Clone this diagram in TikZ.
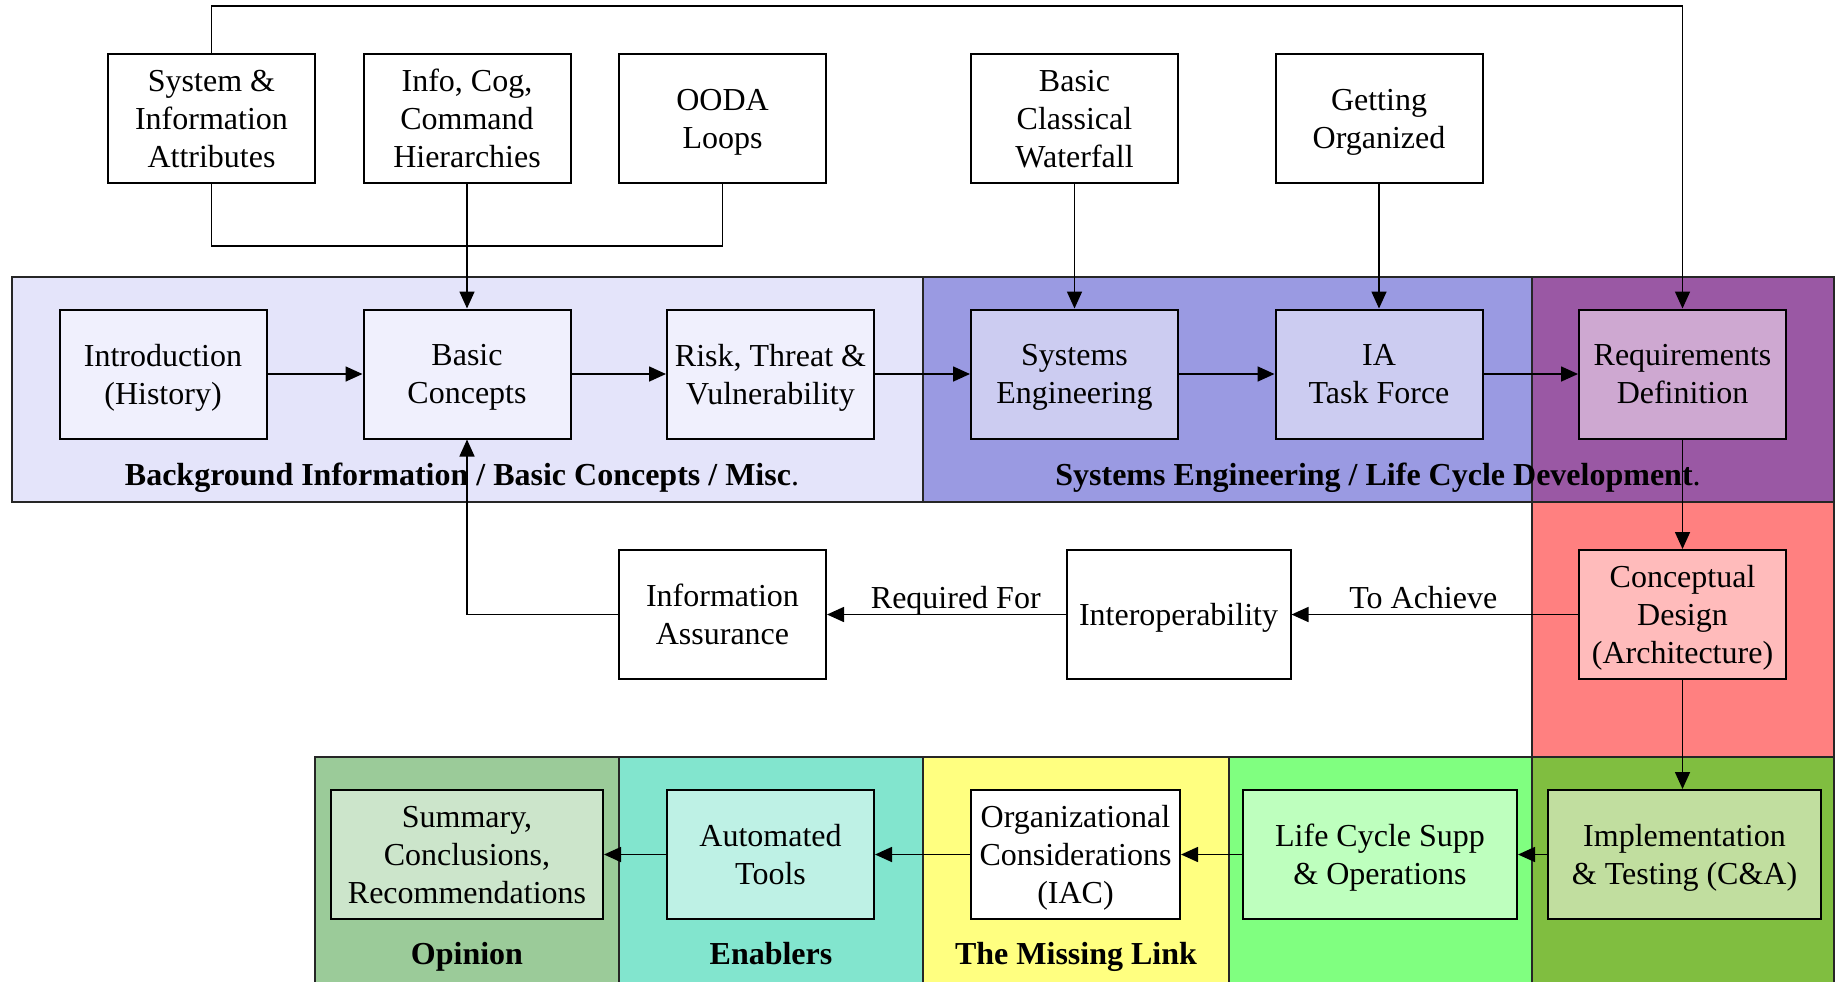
\documentclass[tikz,border=0pt]{standalone}
\usepackage{fontspec}
\setmainfont{Liberation Serif}
\usetikzlibrary{arrows.meta}

% band fills and the lighter fills of the boxes inside them
\definecolor{bgA}{HTML}{E4E4FA}
\definecolor{bxA}{HTML}{F0F0FD}
\definecolor{bgB}{HTML}{9A9AE2}
\definecolor{bxB}{HTML}{CCCCF1}
\definecolor{bgP}{HTML}{9A58A4}
\definecolor{bxP}{HTML}{CEA8D1}
\definecolor{bgR}{HTML}{FF8080}
\definecolor{bxR}{HTML}{FFBBBB}
\definecolor{bgO}{HTML}{9BCB99}
\definecolor{bxO}{HTML}{CCE5CB}
\definecolor{bgE}{HTML}{82E5CE}
\definecolor{bxE}{HTML}{BEF1E5}
\definecolor{bgY}{HTML}{FFFF80}
\definecolor{bgL}{HTML}{80FF80}
\definecolor{bxL}{HTML}{BEFFBE}
\definecolor{bgI}{HTML}{80BE40}
\definecolor{bxI}{HTML}{C1DE9F}

\begin{document}
\begin{tikzpicture}[x=0.5pt,y=-0.5pt,
  txt/.style={font=\fontsize{16}{19}\selectfont},
  % text is centred on its letters, ignoring descenders, and sits a little low
  box/.style={txt, draw, line width=1pt, minimum width=103.5pt,
    minimum height=64.5pt, inner sep=0pt, align=center, text depth=-4.5pt},
  band/.style={draw=black!85, line width=0.8pt},
  lbl/.style={font=\fontsize{16}{19}\selectfont\bfseries, text depth=0pt},
  tag/.style={txt, above, inner sep=2.5pt, text depth=0pt},
  link/.style={line width=0.8pt},
  arr/.style={link, -{Triangle[length=8.5pt,width=7.5pt]}},
]
\useasboundingbox (0,0) rectangle (1835,981);

% ---- coloured bands ----
\draw[band, fill=bgA] (12,277) rectangle (923,502);
\draw[band, fill=bgB] (923,277) rectangle (1532,502);
\draw[band, fill=bgP] (1532,277) rectangle (1834,502);
\draw[band, fill=bgR] (1532,502) rectangle (1834,757);
\draw[band, fill=bgO] (315,757) rectangle (619,985);
\draw[band, fill=bgE] (619,757) rectangle (923,985);
\draw[band, fill=bgY] (923,757) rectangle (1229,985);
\draw[band, fill=bgL] (1229,757) rectangle (1532,985);
\draw[band, fill=bgI] (1532,757) rectangle (1834,985);

% ---- band titles ----
\node[lbl] (tA) at (462,474) {Background Information / Basic Concepts / Misc\textmd{.}};
\node[lbl] (tB) at (1378,474) {Systems Engineering / Life Cycle Development\textmd{.}};
\node[lbl] (tO) at (467,953) {Opinion};
\node[lbl] (tE) at (771,953) {Enablers};
\node[lbl] (tY) at (1076,953) {The Missing Link};

% ---- top row ----
\node[box, fill=white] (sys)  at (211.5,118.5) {System \&\\Information\\Attributes};
\node[box, fill=white] (cog)  at (467,118.5)   {Info, Cog,\\Command\\Hierarchies};
\node[box, fill=white] (ooda) at (722.5,118.5) {OODA\\Loops};
\node[box, fill=white] (wat)  at (1074.5,118.5) {Basic\\Classical\\Waterfall};
\node[box, fill=white] (org)  at (1379,118.5)  {Getting\\Organized};

% ---- first band row ----
\node[box, fill=bxA] (intro)  at (163,374)    {Introduction\\(History)};
\node[box, fill=bxA] (basic)  at (467,374)    {Basic\\Concepts};
\node[box, fill=bxA] (risk)   at (770.5,374)  {Risk, Threat \&\\Vulnerability};
\node[box, fill=bxB] (syseng) at (1074.5,374) {Systems\\Engineering};
\node[box, fill=bxB] (ia)     at (1379,374)   {IA\\Task Force};
\node[box, fill=bxP] (req)    at (1682.5,374) {Requirements\\Definition};

% ---- middle row ----
\node[box, fill=white] (infoas)  at (722.5,614.5)  {Information\\Assurance};
\node[box, fill=white, minimum width=112pt] (interop) at (1178.5,614.5) {Interoperability};
\node[box, fill=bxR] (concept) at (1682.5,614.5) {Conceptual\\Design\\(Architecture)};

% ---- bottom row ----
\node[box, fill=bxO, minimum width=136pt] (summary) at (467,854.5) {Summary,\\Conclusions,\\Recommendations};
\node[box, fill=bxE] (tools)   at (770.5,854.5)  {Automated\\Tools};
\node[box, fill=white, minimum width=104.5pt] (orgcons) at (1075.5,854.5) {Organizational\\Considerations\\(IAC)};
\node[box, fill=bxL, minimum width=137pt] (lcs)  at (1380,854.5)  {Life Cycle Supp\\\& Operations};
\node[box, fill=bxI, minimum width=136.5pt] (impl) at (1684.5,854.5) {Implementation\\\& Testing (C\&A)};

% ---- connectors ----
\coordinate (topy) at (0,6);
\coordinate (joiny) at (0,246);
\draw[arr] (sys.north) -- (sys.north |- topy) -| (req.north);
\draw[link] (sys.south) -- (sys.south |- joiny) -| (ooda.south);
\draw[arr] (cog.south) -- (basic.north);
\draw[arr] (wat.south) -- (syseng.north);
\draw[arr] (org.south) -- (ia.north);

\draw[arr] (intro) -- (basic);
\draw[arr] (basic) -- (risk);
\draw[arr] (risk) -- (syseng);
\draw[arr] (syseng) -- (ia);
\draw[arr] (ia) -- (req);

\draw[arr] (req) -- (concept);
\draw[arr] (concept.south) -- (concept.south |- impl.north);
\draw[arr] (concept) -- node[tag, pos=0.54] {To Achieve} (interop);
\draw[arr] (interop) -- node[tag, pos=0.46] {Required For} (infoas);
\draw[arr] (infoas.west) -| (basic.south);

\draw[arr] (impl) -- (lcs);
\draw[arr] (lcs) -- (orgcons);
\draw[arr] (orgcons) -- (tools);
\draw[arr] (tools) -- (summary);
\end{tikzpicture}
\end{document}
